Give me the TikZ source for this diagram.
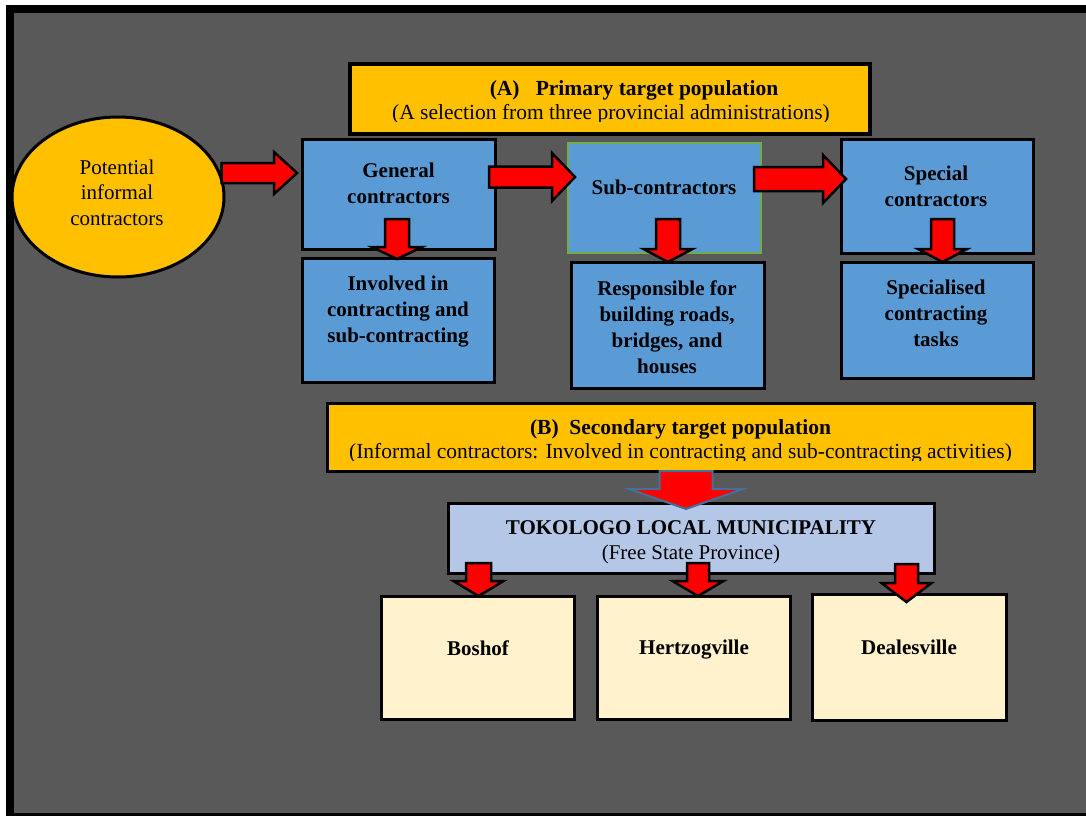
\documentclass[tikz,border=0pt]{standalone}
\usepackage{fontspec}
\setmainfont{Liberation Serif}
\usetikzlibrary{calc,shapes.geometric}
\definecolor{bggray}{HTML}{595959}
\definecolor{orng}{HTML}{FFC000}
\definecolor{bblue}{HTML}{5B9BD5}
\definecolor{ggreen}{HTML}{70AD47}
\definecolor{lblue}{HTML}{B4C7E7}
\definecolor{cream}{HTML}{FFF2CC}
\definecolor{arrblue}{HTML}{41719C}
\tikzset{
  box/.style={draw=black, line width=3pt, fill=bblue, inner sep=0pt},
  banner/.style={draw=black, line width=3.5pt, fill=orng, inner sep=0pt},
  town/.style={draw=black, line width=3pt, fill=cream, inner sep=0pt},
  txt/.style={font=\fontsize{21}{26}\selectfont\bfseries, align=center, inner sep=0pt, text=black},
  plain/.style={font=\fontsize{21.5}{24}\selectfont, align=center, inner sep=0pt, text=black},
  barrow/.style={draw=black, line width=2.5pt, fill=red, line join=miter},
  bigarrow/.style={draw=arrblue, line width=2pt, fill=red, line join=miter},
}
% horizontal block arrow: start, tip, y, shaft half, head half, head length
\newcommand\harrow[7][barrow]{\draw[#1] let \p1=(#2),\p2=(#3),\p3=(0,#4) in
 (\x1,\y3+#5pt) -- (\x2-#7pt,\y3+#5pt) -- (\x2-#7pt,\y3+#6pt) -- (\x2,\y3) -- (\x2-#7pt,\y3-#6pt) -- (\x2-#7pt,\y3-#5pt) -- (\x1,\y3-#5pt) -- cycle;}
% vertical block arrow: top, tip, x, shaft half, head half, head length
\newcommand\varrow[7][barrow]{\draw[#1] let \p1=(#2),\p2=(#3),\p3=(#4,0) in
 (\x3-#5pt,\y1) -- (\x3-#5pt,\y2+#7pt) -- (\x3-#6pt,\y2+#7pt) -- (\x3,\y2) -- (\x3+#6pt,\y2+#7pt) -- (\x3+#5pt,\y2+#7pt) -- (\x3+#5pt,\y1) -- cycle;}
\begin{document}
\begin{tikzpicture}[x=1pt,y=-1pt]
\useasboundingbox (0,0) rectangle (1086,816);
\fill[white] (0,0) rectangle (1086,816);
\fill[black] (6,5) rectangle (1086,816);
\fill[bggray] (14,13) rectangle (1086,813);

% ellipse
\node[ellipse, draw=black, line width=3pt, fill=orng, minimum width=212pt, minimum height=160pt, inner sep=0pt] (ell) at (118,197) {};
\node[align=center, inner sep=0pt, font=\fontsize{21}{25.5}\selectfont] (ellt) at (117,192.5) {Potential\\informal\\contractors};

% (A) banner
\node[banner, minimum width=520pt, minimum height=70pt] (A) at (610,99) {};
\node[plain, font=\fontsize{21.5}{24}\selectfont\bfseries] (Atitle) at (634,90) {(A)\hspace{0.75em}Primary target population};
\begin{scope}
\clip (350,64) rectangle (870,121.5);
\node[plain] (Asub) at (611,114) {(A selection from three provincial administrations)};
\end{scope}

% top row
\node[box, minimum width=193pt, minimum height=110pt] (gen) at (398.5,194) {};
\node[txt] (gent) at (398.5,183) {General\\contractors};
\node[box, draw=ggreen, line width=2pt, minimum width=193pt, minimum height=110pt] (sub) at (664.5,198) {};
\node[txt] (subt) at (664,187) {Sub-contractors};
\node[box, minimum width=192pt, minimum height=114pt] (spec) at (937,196) {};
\node[txt] (spect) at (936,186) {Special\\contractors};

% second row
\node[box, minimum width=192pt, minimum height=124pt] (inv) at (398,320) {};
\node[txt] (invt) at (398,312) {Involved in\\contracting and\\sub-contracting};
\node[box, minimum width=193pt, minimum height=126pt] (resp) at (667.5,325) {};
\node[txt] (respt) at (667,327) {Responsible for\\building roads,\\bridges, and\\houses};
\node[box, minimum width=192pt, minimum height=116pt] (speci) at (937,320) {};
\node[txt] (specit) at (936,313) {Specialised\\contracting\\tasks};

% (B) banner
\node[banner, line width=3pt, minimum width=707pt, minimum height=68pt] (B) at (680.5,437) {};
\begin{scope}
\clip (327,403) rectangle (1034,460);
\node[plain] (Bt) at (680.5,441) {\textbf{(B)\hspace{0.5em}Secondary target population}\\(Informal contractors: Involved in contracting and sub-contracting activities)};
\end{scope}

% Tokologo
\node[box, fill=lblue, minimum width=486pt, minimum height=70pt] (tok) at (691,538) {};
\node[plain, font=\fontsize{21}{25}\selectfont] (tokt) at (691,542) {\textbf{TOKOLOGO LOCAL MUNICIPALITY}\\(Free State Province)};

% towns
\node[town, minimum width=193pt, minimum height=123pt] (bos) at (477.5,657.5) {};
\node[txt] (bost) at (478,648) {Boshof};
\node[town, minimum width=193pt, minimum height=123pt] (her) at (693.5,657.5) {};
\node[txt] (hert) at (694,649.5) {Hertzogville};
\node[town, minimum width=194pt, minimum height=126pt] (deal) at (909,657) {};
\node[txt] (dealt) at (909,647) {Dealesville};

% horizontal arrows
\harrow{$(ell.east)+(-4,0)$}{$(gen.west)+(-3.5,0)$}{173}{10}{21}{23}
\harrow{$(gen.east)+(-7.5,0)$}{$(sub.west)+(8,0)$}{177}{10.5}{24}{23}
\harrow{$(sub.east)+(-8,0)$}{$(spec.west)+(6.5,0)$}{179}{12}{24}{23}

% vertical arrows top
\varrow{$(gen.south)+(0,-31.5)$}{$(inv.north)+(0,2.5)$}{397}{12}{25}{12}
\varrow{$(sub.south)+(0,-35)$}{$(resp.north)+(0,1.5)$}{668}{12}{24.5}{13}
\varrow{$(spec.south)+(0,-35.5)$}{$(speci.north)+(0,1.5)$}{942.5}{11.5}{24.5}{13}

% big arrow
\varrow[bigarrow]{$(B.south)+(0,-1.5)$}{$(tok.north)+(0,7.5)$}{686}{26.5}{57}{20}

% town arrows
\varrow{$(tok.south)+(0,-11.5)$}{$(bos.north)+(0,1.5)$}{478.5}{12.5}{25}{15}
\varrow{$(tok.south)+(0,-11.5)$}{$(her.north)+(0,1.5)$}{698}{11}{25.5}{15}
\varrow{$(tok.south)+(0,-10.5)$}{$(deal.north)+(0,9.5)$}{906.5}{11.5}{25}{19}
\end{tikzpicture}
\end{document}
